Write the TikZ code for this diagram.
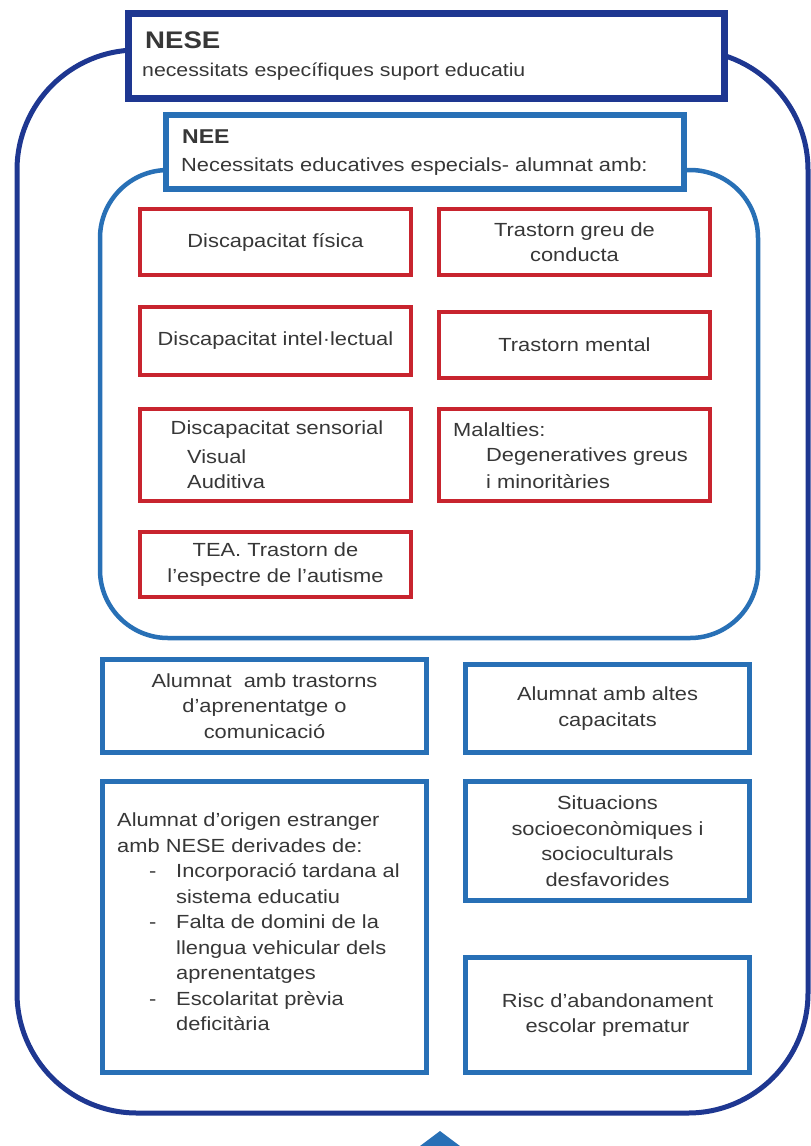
\documentclass[tikz,border=0pt]{standalone}
\usepackage{fontspec}
\setmainfont{Liberation Sans}[FakeStretch=1.15]
\definecolor{navy}{RGB}{30,55,145}
\definecolor{mblue}{RGB}{40,112,182}
\definecolor{boxred}{RGB}{200,36,46}
\definecolor{txtgray}{RGB}{55,55,55}
\begin{document}
\begin{tikzpicture}[x=1pt,y=-1pt,
  txt/.style={font=\fontsize{19}{25.5}\selectfont, text=txtgray, inner sep=0pt, align=center},
  ltxt/.style={txt, align=left, anchor=west},
  navybox/.style={draw=navy, line width=7pt, fill=white, inner sep=0pt},
  neebox/.style={draw=mblue, line width=6pt, fill=white, inner sep=0pt},
  bluebox/.style={draw=mblue, line width=5pt, fill=white, txt},
  redbox/.style={draw=boxred, line width=4pt, fill=white, txt},
  outerframe/.style={draw=navy, line width=5pt, rounded corners=120pt},
  innerframe/.style={draw=mblue, line width=4.5pt, rounded corners=68pt}
]
\useasboundingbox (0,0) rectangle (811,1146);
\fill[white] (0,0) rectangle (811,1146);

% frames
\draw[outerframe] (17,50) rectangle (808,1113);
\draw[innerframe] (100,170) rectangle (758,638);

% NESE header
\node[navybox, minimum width=596pt, minimum height=85pt] (nese) at (426.5,56) {};
\node[ltxt, font=\fontsize{24}{28}\selectfont\bfseries] (neseT) at (145,40) {NESE};
\node[ltxt, font=\fontsize{18.5}{25}\selectfont] (neseS) at (142,72) {necessitats específiques suport educatiu};

% NEE header
\node[neebox, minimum width=518pt, minimum height=74pt] (nee) at (425,152) {};
\node[ltxt, font=\fontsize{20}{25}\selectfont\bfseries] (neeT) at (182,137) {NEE};
\node[ltxt] (neeS) at (181,167) {Necessitats educatives especials- alumnat amb:};

% red boxes
\node[redbox, minimum width=271pt, minimum height=66pt] (r1l) at (275.5,242) {Discapacitat física};
\node[redbox, minimum width=271pt, minimum height=66pt] (r1r) at (574.5,242) {Trastorn greu de\\conducta};
\node[redbox, minimum width=271pt, minimum height=68pt] (r2l) at (275.5,341) {Discapacitat intel·lectual};
\node[redbox, minimum width=271pt, minimum height=66pt] (r2r) at (574.5,345) {Trastorn mental};
\node[redbox, minimum width=271pt, minimum height=92pt] (r3l) at (275.5,455) {};
\node[txt] (r3lA) at (277,430) {Discapacitat sensorial};
\node[ltxt] (r3lB) at (187,457) {Visual};
\node[ltxt] (r3lC) at (187,482) {Auditiva};
\node[redbox, minimum width=271pt, minimum height=92pt] (r3r) at (574.5,455) {};
\node[ltxt] (r3rA) at (453,430) {Malalties:};
\node[ltxt] (r3rB) at (486,457) {Degeneratives greus};
\node[ltxt] (r3rC) at (486,482) {i minoritàries};
\node[redbox, minimum width=271pt, minimum height=65pt] (r4l) at (275.5,564.5) {TEA. Trastorn de\\l'espectre de l'autisme};

% blue boxes
\node[bluebox, minimum width=324pt, minimum height=93pt] (ba) at (264.5,706) {Alumnat~ amb trastorns\\d'aprenentatge o\\comunicació};
\node[bluebox, minimum width=284pt, minimum height=88pt] (bb) at (607.5,708.5) {Alumnat amb altes\\capacitats};
\node[bluebox, minimum width=324pt, minimum height=291pt] (bc) at (264.5,927) {};
\node[ltxt] (bcT) at (117,922) {Alumnat d'origen estranger\\
amb NESE derivades de:\\
\makebox[59pt][l]{\hspace*{32pt}-}Incorporació tardana al\\
\hspace*{59pt}sistema educatiu\\
\makebox[59pt][l]{\hspace*{32pt}-}Falta de domini de la\\
\hspace*{59pt}llengua vehicular dels\\
\hspace*{59pt}aprenentatges\\
\makebox[59pt][l]{\hspace*{32pt}-}Escolaritat prèvia\\
\hspace*{59pt}deficitària};
\node[bluebox, minimum width=284pt, minimum height=119pt] (bd) at (607.5,841) {Situacions\\socioeconòmiques i\\socioculturals\\desfavorides};
\node[bluebox, minimum width=284pt, minimum height=115pt] (be) at (607.5,1015) {Risc d'abandonament\\escolar prematur};

% arrow tip at bottom
\fill[mblue] (440,1131) -- (460,1146) -- (420,1146) -- cycle;
\end{tikzpicture}
\end{document}
